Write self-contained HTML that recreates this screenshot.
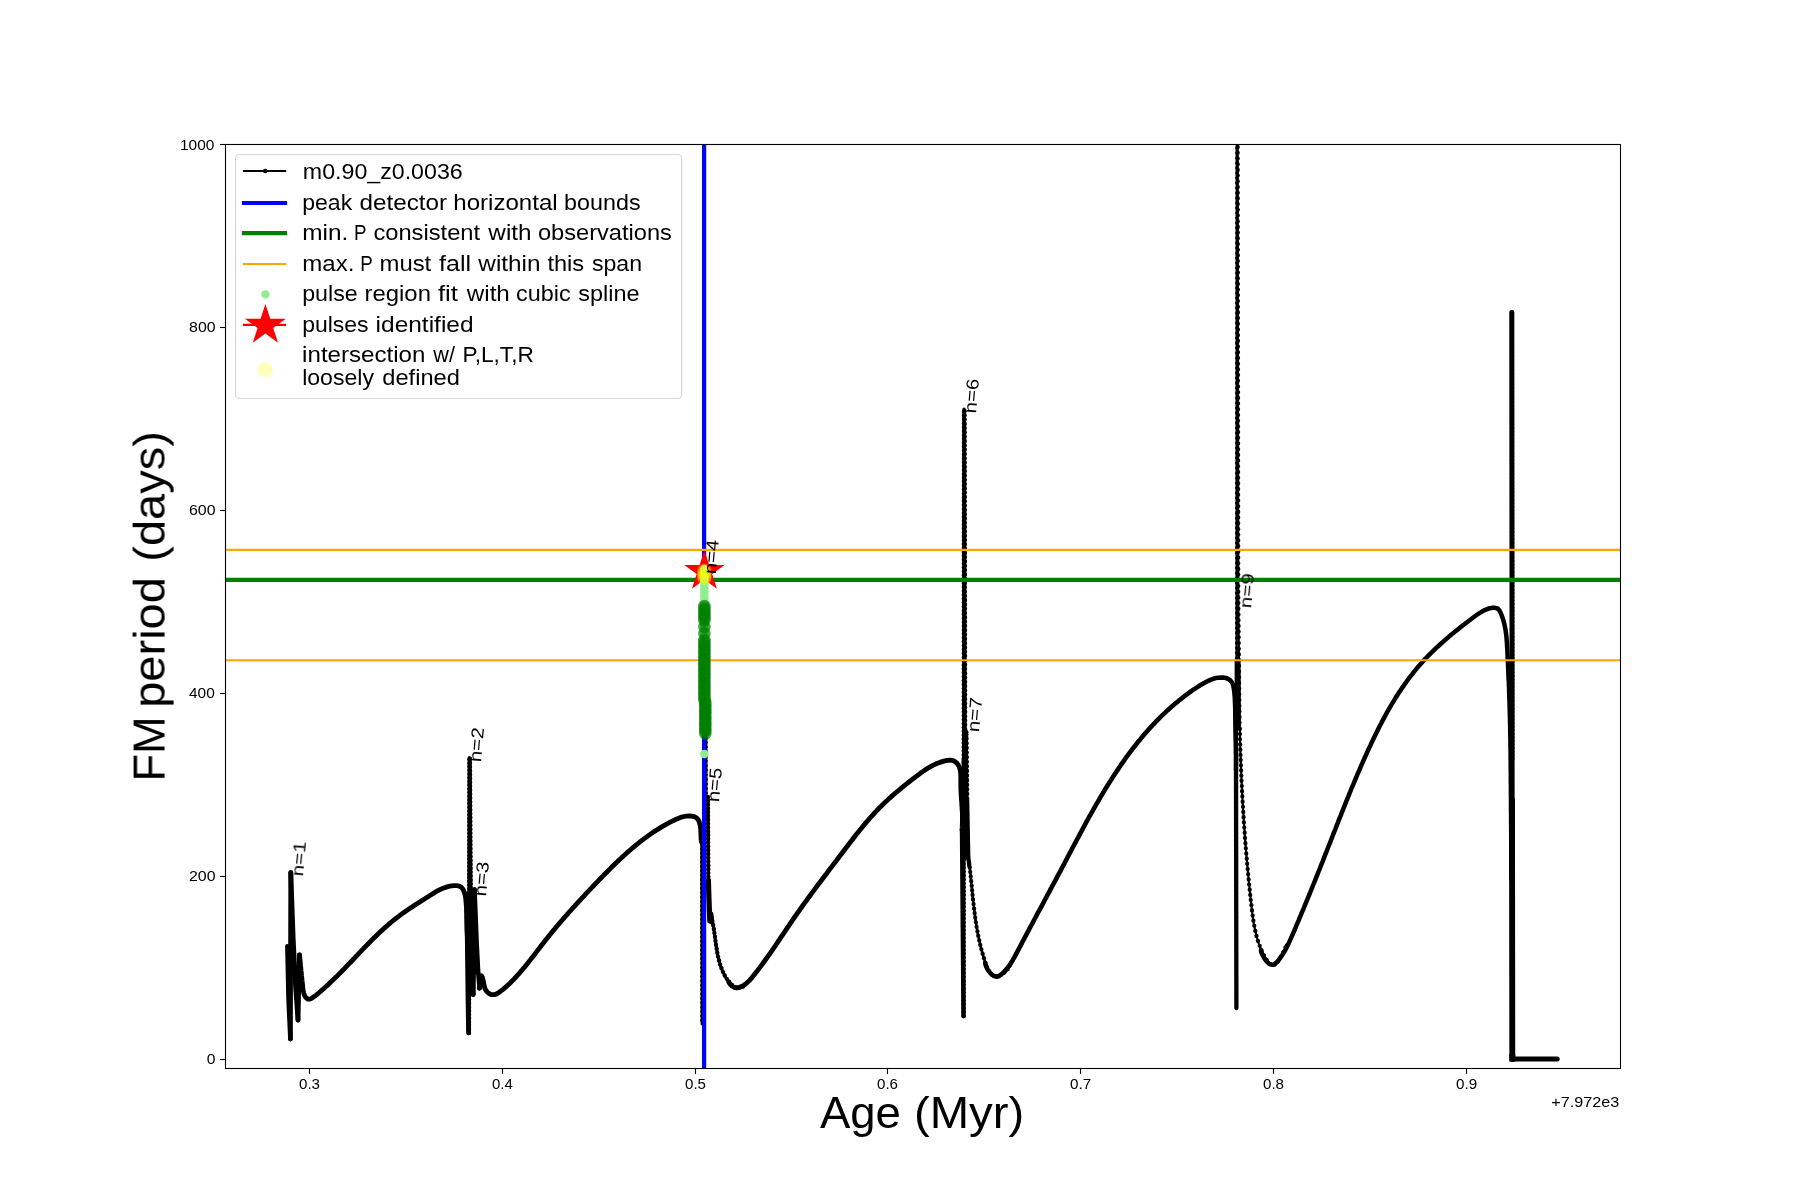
<!DOCTYPE html>
<html><head><meta charset="utf-8"><title>FM period vs Age</title>
<style>
html,body{margin:0;padding:0;background:#fff;}
body{width:1800px;height:1200px;overflow:hidden;}
svg{display:block;}
text{font-family:"Liberation Sans",sans-serif;fill:#000;}
g.t{opacity:0.999;}
</style></head>
<body>
<svg width="1800" height="1200" viewBox="0 0 1800 1200">
<rect x="0" y="0" width="1800" height="1200" fill="#ffffff"/>
<defs><clipPath id="ax"><rect x="225.5" y="144.5" width="1395" height="924"/></clipPath></defs>
<g clip-path="url(#ax)">
<g fill="none" stroke="#000" stroke-linejoin="round" stroke-linecap="round">
<path d="M469.0 1033.0 L469.4 757.5" stroke-width="3.2"/>
<path d="M469.0 1033.0 L469.4 757.5" stroke-width="4.5" stroke-dasharray="0 3.7"/>
<path d="M470.0 759.0 L470.8 890.0" stroke-width="3.0"/>
<path d="M470.0 759.0 L470.8 890.0" stroke-width="4.4" stroke-dasharray="0 3.9"/>
<path d="M701.7 840.0 L702.0 1024.0" stroke-width="2.8"/>
<path d="M701.7 840.0 L702.0 1024.0" stroke-width="3.6" stroke-dasharray="0 4.4"/>
<path d="M706.4 600.0 L706.9 797.0" stroke-width="1.4"/>
<path d="M706.4 600.0 L706.9 797.0" stroke-width="2.2" stroke-dasharray="0 4.6"/>
<path d="M707.9 797.0 L708.4 880.0" stroke-width="3.2"/>
<path d="M707.9 797.0 L708.4 880.0" stroke-width="4.4" stroke-dasharray="0 3.8"/>
<path d="M963.6 1016.0 L964.0 409.0" stroke-width="3.2"/>
<path d="M963.6 1016.0 L964.0 409.0" stroke-width="4.5" stroke-dasharray="0 3.9"/>
<path d="M964.7 411.0 L965.3 760.0" stroke-width="2.8"/>
<path d="M964.7 411.0 L965.3 760.0" stroke-width="4.3" stroke-dasharray="0 4.3"/>
<path d="M965.3 760.0 L966.6 731.0 L967.4 800.0" stroke-width="2.4"/>
<path d="M965.3 760.0 L966.6 731.0 L967.4 800.0" stroke-width="4.2" stroke-dasharray="0 4.6"/>
<path d="M1236.5 1008.0 L1236.8 130.0" stroke-width="2.4"/>
<path d="M1236.5 1008.0 L1236.8 130.0" stroke-width="3.4" stroke-dasharray="0 5.0"/>
<path d="M1237.8 130.0 L1238.4 600.0 L1239.7 729.0" stroke-width="2.0"/>
<path d="M1237.8 130.0 L1238.4 600.0 L1239.7 729.0" stroke-width="4.1" stroke-dasharray="0 5.7"/>
<path d="M1511.9 312.5 L1512.3 760.0" stroke-width="3.4"/>
<path d="M1511.9 312.5 L1512.3 760.0" stroke-width="4.6" stroke-dasharray="0 3.6"/>
<path d="M711.4 917.2 L712.0 919.5 L712.6 921.9 L713.0 924.4 L713.5 926.9 L713.9 929.4 L714.3 931.9 L714.6 934.5 L715.0 937.1 L715.3 939.7 L715.7 942.3 L716.0 944.9 L716.4 947.5 L716.9 950.2 L717.3 952.7 L717.8 955.3 L718.4 957.9 L719.0 960.4 L719.7 962.9 L720.4 965.4 L721.3 967.8 L722.2 970.2 L723.2 972.5 L724.4 974.8 L725.6 977.0 L727.0 979.2 L728.5 981.3 L730.2 983.3 L732.0 985.1 L733.9 986.6 L736.0 987.6 L738.2 987.9 L740.6 987.6 L743.0 986.3 L745.5 983.9" stroke-width="3.0"/>
<path d="M711.4 917.2 L712.0 919.5 L712.6 921.9 L713.0 924.4 L713.5 926.9 L713.9 929.4 L714.3 931.9 L714.6 934.5 L715.0 937.1 L715.3 939.7 L715.7 942.3 L716.0 944.9 L716.4 947.5 L716.9 950.2 L717.3 952.7 L717.8 955.3 L718.4 957.9 L719.0 960.4 L719.7 962.9 L720.4 965.4 L721.3 967.8 L722.2 970.2 L723.2 972.5 L724.4 974.8 L725.6 977.0 L727.0 979.2 L728.5 981.3 L730.2 983.3 L732.0 985.1 L733.9 986.6 L736.0 987.6 L738.2 987.9 L740.6 987.6 L743.0 986.3 L745.5 983.9" stroke-width="4.4" stroke-dasharray="0 4.0"/>
<path d="M969.2 862.9 L969.5 865.5 L969.8 868.1 L970.1 870.6 L970.4 873.2 L970.6 875.8 L970.9 878.3 L971.2 880.9 L971.4 883.4 L971.7 885.9 L971.9 888.5 L972.2 891.0 L972.4 893.5 L972.7 896.0 L972.9 898.6 L973.2 901.1 L973.5 903.6 L973.8 906.1 L974.1 908.6 L974.4 911.1 L974.7 913.6 L975.0 916.1 L975.4 918.6 L975.7 921.1 L976.1 923.6 L976.5 926.1 L976.9 928.6 L977.4 931.1 L977.8 933.6 L978.3 936.1 L978.9 938.6 L979.4 941.2 L980.0 943.7 L980.6 946.2 L981.2 948.7 L981.9 951.2 L982.6 953.7 L983.3 956.3 L984.1 958.8 L984.9 961.3 L985.7 963.9 L986.6 966.4 L987.6 968.8 L988.8 971.0 L990.3 973.0 L992.0 974.5 L993.9 975.6 L996.1 976.1 L998.5 975.9 L1000.8 975.0 L1003.1 973.7 L1005.3 971.9 L1007.2 969.8 L1008.8 967.6 L1010.0 965.2 L1010.7 962.9" stroke-width="2.6"/>
<path d="M969.2 862.9 L969.5 865.5 L969.8 868.1 L970.1 870.6 L970.4 873.2 L970.6 875.8 L970.9 878.3 L971.2 880.9 L971.4 883.4 L971.7 885.9 L971.9 888.5 L972.2 891.0 L972.4 893.5 L972.7 896.0 L972.9 898.6 L973.2 901.1 L973.5 903.6 L973.8 906.1 L974.1 908.6 L974.4 911.1 L974.7 913.6 L975.0 916.1 L975.4 918.6 L975.7 921.1 L976.1 923.6 L976.5 926.1 L976.9 928.6 L977.4 931.1 L977.8 933.6 L978.3 936.1 L978.9 938.6 L979.4 941.2 L980.0 943.7 L980.6 946.2 L981.2 948.7 L981.9 951.2 L982.6 953.7 L983.3 956.3 L984.1 958.8 L984.9 961.3 L985.7 963.9 L986.6 966.4 L987.6 968.8 L988.8 971.0 L990.3 973.0 L992.0 974.5 L993.9 975.6 L996.1 976.1 L998.5 975.9 L1000.8 975.0 L1003.1 973.7 L1005.3 971.9 L1007.2 969.8 L1008.8 967.6 L1010.0 965.2 L1010.7 962.9" stroke-width="4.3" stroke-dasharray="0 4.6"/>
<path d="M1239.8 728.9 L1239.9 731.5 L1239.9 734.0 L1240.0 736.6 L1240.0 739.2 L1240.1 741.7 L1240.2 744.3 L1240.3 746.8 L1240.3 749.3 L1240.4 751.9 L1240.5 754.4 L1240.6 757.0 L1240.7 759.5 L1240.8 762.1 L1240.9 764.6 L1241.0 767.1 L1241.1 769.7 L1241.2 772.2 L1241.3 774.7 L1241.4 777.3 L1241.5 779.8 L1241.6 782.3 L1241.8 784.8 L1241.9 787.4 L1242.0 789.9 L1242.1 792.4 L1242.3 795.0 L1242.4 797.5 L1242.5 800.0 L1242.7 802.5 L1242.8 805.1 L1243.0 807.6 L1243.1 810.1 L1243.3 812.6 L1243.5 815.1 L1243.6 817.7 L1243.8 820.2 L1243.9 822.7 L1244.1 825.2 L1244.3 827.8 L1244.5 830.3 L1244.7 832.8 L1244.8 835.3 L1245.0 837.8 L1245.2 840.4 L1245.4 842.9 L1245.6 845.4 L1245.8 847.9 L1246.0 850.5 L1246.2 853.0 L1246.5 855.5 L1246.7 858.0 L1246.9 860.6 L1247.1 863.1 L1247.3 865.6 L1247.6 868.2 L1247.8 870.7 L1248.1 873.2 L1248.3 875.8 L1248.5 878.3 L1248.8 880.8 L1249.0 883.4 L1249.3 885.9 L1249.6 888.5 L1249.8 891.0 L1250.1 893.5 L1250.4 896.1 L1250.6 898.6 L1250.9 901.2 L1251.2 903.7 L1251.5 906.3 L1251.8 908.8 L1252.1 911.4 L1252.4 913.9 L1252.8 916.5 L1253.1 919.0 L1253.5 921.5 L1253.9 924.0 L1254.4 926.5 L1254.9 929.0 L1255.4 931.5 L1256.0 934.0 L1256.6 936.4 L1257.3 938.8 L1258.0 941.2 L1258.8 943.6 L1259.7 945.9 L1260.6 948.3 L1261.6 950.6 L1262.7 952.8 L1263.8 955.1 L1265.1 957.3 L1266.4 959.4 L1267.8 961.5 L1269.3 963.4 L1271.0 964.8 L1272.8 965.3 L1274.9 964.6 L1277.3 962.5 L1280.0 958.5 L1282.8 953.2 L1285.2 948.1 L1286.9 944.5 L1287.3 944.1 L1286.0 948.3" stroke-width="2.2"/>
<path d="M1239.8 728.9 L1239.9 731.5 L1239.9 734.0 L1240.0 736.6 L1240.0 739.2 L1240.1 741.7 L1240.2 744.3 L1240.3 746.8 L1240.3 749.3 L1240.4 751.9 L1240.5 754.4 L1240.6 757.0 L1240.7 759.5 L1240.8 762.1 L1240.9 764.6 L1241.0 767.1 L1241.1 769.7 L1241.2 772.2 L1241.3 774.7 L1241.4 777.3 L1241.5 779.8 L1241.6 782.3 L1241.8 784.8 L1241.9 787.4 L1242.0 789.9 L1242.1 792.4 L1242.3 795.0 L1242.4 797.5 L1242.5 800.0 L1242.7 802.5 L1242.8 805.1 L1243.0 807.6 L1243.1 810.1 L1243.3 812.6 L1243.5 815.1 L1243.6 817.7 L1243.8 820.2 L1243.9 822.7 L1244.1 825.2 L1244.3 827.8 L1244.5 830.3 L1244.7 832.8 L1244.8 835.3 L1245.0 837.8 L1245.2 840.4 L1245.4 842.9 L1245.6 845.4 L1245.8 847.9 L1246.0 850.5 L1246.2 853.0 L1246.5 855.5 L1246.7 858.0 L1246.9 860.6 L1247.1 863.1 L1247.3 865.6 L1247.6 868.2 L1247.8 870.7 L1248.1 873.2 L1248.3 875.8 L1248.5 878.3 L1248.8 880.8 L1249.0 883.4 L1249.3 885.9 L1249.6 888.5 L1249.8 891.0 L1250.1 893.5 L1250.4 896.1 L1250.6 898.6 L1250.9 901.2 L1251.2 903.7 L1251.5 906.3 L1251.8 908.8 L1252.1 911.4 L1252.4 913.9 L1252.8 916.5 L1253.1 919.0 L1253.5 921.5 L1253.9 924.0 L1254.4 926.5 L1254.9 929.0 L1255.4 931.5 L1256.0 934.0 L1256.6 936.4 L1257.3 938.8 L1258.0 941.2 L1258.8 943.6 L1259.7 945.9 L1260.6 948.3 L1261.6 950.6 L1262.7 952.8 L1263.8 955.1 L1265.1 957.3 L1266.4 959.4 L1267.8 961.5 L1269.3 963.4 L1271.0 964.8 L1272.8 965.3 L1274.9 964.6 L1277.3 962.5 L1280.0 958.5 L1282.8 953.2 L1285.2 948.1 L1286.9 944.5 L1287.3 944.1 L1286.0 948.3" stroke-width="4.3" stroke-dasharray="0 5.2"/>
<path d="M287.4 946.3 L288.6 1000.0 L290.4 1039.0" stroke-width="4.6"/>
<path d="M290.4 1039.0 L290.8 872.7" stroke-width="4.8"/>
<path d="M290.8 872.7 L293.2 939.0 L295.6 986.7 L298.0 1020.0" stroke-width="4.8"/>
<path d="M298.0 1020.0 L299.5 955.0" stroke-width="4.8"/>
<path d="M467.2 935.0 L468.0 1000.0 L468.5 1033.0" stroke-width="4.7"/>
<path d="M470.4 890.0 L471.6 950.0 L473.2 994.5" stroke-width="4.8"/>
<path d="M473.2 994.5 L474.5 889.5" stroke-width="4.6"/>
<path d="M474.5 889.5 L476.5 940.0 L478.0 970.0 L479.6 988.0" stroke-width="4.6"/>
<path d="M708.4 880.0 L709.0 900.0 L709.8 921.0" stroke-width="5.2"/>
<path d="M710.9 914.0 L711.6 922.0" stroke-width="5.0"/>
<path d="M962.0 830.0 L963.5 1016.0" stroke-width="4.4"/>
<path d="M964.5 760.0 L965.2 857.0" stroke-width="5.8"/>
<path d="M967.2 800.0 L968.3 857.0 L969.3 866.0" stroke-width="4.2"/>
<path d="M1236.0 770.0 L1236.4 1008.0" stroke-width="4.3"/>
<path d="M1237.6 660.0 L1237.8 727.0" stroke-width="6.0"/>
<path d="M1512.0 800.0 L1512.3 1059.0" stroke-width="5.9"/>
<path d="M1511.8 312.6 L1512.2 880.0" stroke-width="5.0"/>
<path d="M299.5 955.0 L299.8 957.6 L300.0 960.1 L300.3 962.6 L300.5 965.2 L300.8 967.7 L301.0 970.2 L301.3 972.7 L301.5 975.2 L301.8 977.7 L302.0 980.2 L302.3 982.8 L302.6 985.3 L302.8 987.9 L303.2 990.4 L303.7 993.0 L304.6 995.4 L306.0 997.7 L307.8 999.2 L310.0 999.1 L312.4 997.8 L314.6 996.3 L316.7 994.7 L318.7 993.0 L320.6 991.3 L322.5 989.7 L324.4 988.0 L326.3 986.3 L328.2 984.6 L330.0 982.8 L331.8 981.1 L333.6 979.4 L335.4 977.6 L337.2 975.9 L339.0 974.1 L340.8 972.3 L342.5 970.5 L344.3 968.7 L346.0 966.9 L347.7 965.1 L349.5 963.3 L351.2 961.5 L353.0 959.7 L354.7 957.8 L356.5 956.0 L358.2 954.1 L360.0 952.3 L361.7 950.4 L363.5 948.6 L365.3 946.7 L367.1 944.9 L368.9 943.0 L370.8 941.2 L372.6 939.3 L374.4 937.5 L376.3 935.7 L378.1 933.9 L380.0 932.1 L381.9 930.4 L383.8 928.6 L385.7 926.9 L387.6 925.3 L389.5 923.6 L391.4 922.0 L393.4 920.4 L395.3 918.9 L397.3 917.3 L399.3 915.8 L401.2 914.4 L403.2 912.9 L405.3 911.5 L407.3 910.1 L409.3 908.7 L411.4 907.4 L413.5 906.0 L415.6 904.6 L417.7 903.3 L419.8 901.9 L422.0 900.5 L424.1 899.2 L426.3 897.8 L428.5 896.4 L430.7 895.0 L433.0 893.6 L435.2 892.2 L437.5 890.9 L439.8 889.7 L442.2 888.6 L444.6 887.7 L447.0 886.9 L449.4 886.2 L451.8 885.8 L454.3 885.6 L456.9 885.7 L459.3 886.2 L461.5 887.4 L463.1 889.5 L464.2 892.0 L465.0 894.5 L465.5 897.0 L465.8 899.5 L466.0 901.9 L466.2 904.4 L466.4 907.0 L466.5 909.5 L466.5 912.1 L466.6 914.7 L466.6 917.2 L466.7 919.8 L466.7 922.4 L466.8 924.9 L466.8 927.5 L466.9 930.0 L467.0 932.5 L467.2 935.0" stroke-width="4.8"/>
<path d="M479.6 988.0 L479.3 988.2 L479.5 985.3 L480.0 981.2 L480.7 977.5 L481.6 975.8 L482.4 977.3 L483.1 980.2 L483.7 983.1 L484.2 985.7 L484.8 988.1 L485.8 990.2 L487.3 992.1 L489.3 993.7 L491.7 994.7 L494.2 994.7 L496.6 993.9 L498.9 992.5 L501.0 990.9 L503.1 989.3 L505.0 987.7 L506.8 986.1 L508.6 984.4 L510.4 982.7 L512.2 980.9 L513.9 979.2 L515.6 977.3 L517.3 975.5 L519.0 973.6 L520.6 971.7 L522.3 969.8 L523.9 967.9 L525.5 965.9 L527.1 963.9 L528.7 961.9 L530.3 959.9 L531.8 957.9 L533.4 955.9 L535.0 953.9 L536.5 951.8 L538.1 949.8 L539.7 947.8 L541.2 945.8 L542.8 943.7 L544.3 941.7 L545.9 939.7 L547.5 937.7 L549.1 935.7 L550.7 933.8 L552.3 931.8 L553.9 929.9 L555.5 927.9 L557.1 926.0 L558.7 924.1 L560.4 922.2 L562.0 920.3 L563.7 918.4 L565.3 916.5 L567.0 914.6 L568.6 912.7 L570.3 910.9 L572.0 909.0 L573.7 907.2 L575.3 905.3 L577.0 903.5 L578.7 901.6 L580.4 899.8 L582.2 897.9 L583.9 896.1 L585.6 894.2 L587.3 892.4 L589.0 890.6 L590.8 888.7 L592.5 886.9 L594.3 885.0 L596.0 883.2 L597.8 881.4 L599.5 879.5 L601.3 877.7 L603.1 875.9 L604.9 874.0 L606.7 872.2 L608.5 870.4 L610.3 868.6 L612.1 866.8 L613.9 865.0 L615.7 863.2 L617.6 861.5 L619.4 859.7 L621.3 858.0 L623.2 856.2 L625.1 854.5 L627.0 852.8 L628.9 851.1 L630.8 849.5 L632.7 847.8 L634.7 846.2 L636.6 844.6 L638.6 843.0 L640.6 841.4 L642.6 839.9 L644.6 838.4 L646.7 836.9 L648.7 835.4 L650.8 833.9 L652.8 832.5 L654.9 831.1 L657.1 829.8 L659.2 828.4 L661.3 827.1 L663.5 825.8 L665.7 824.6 L667.9 823.4 L670.1 822.2 L672.3 821.1 L674.6 820.0 L676.9 818.9 L679.2 818.0 L681.6 817.1 L684.0 816.5 L686.6 816.1 L689.2 815.9 L691.8 816.1 L694.3 816.7 L696.5 817.8 L698.1 819.6 L699.2 821.8 L699.9 824.3 L700.4 826.9 L700.7 829.4 L700.8 831.9 L700.9 834.4 L701.0 836.9 L701.1 839.4 L701.4 842.0" stroke-width="4.8"/>
<path d="M728.7 982.0 L730.1 984.2 L732.0 986.0 L734.2 987.3 L736.6 987.8 L739.1 987.5 L741.4 986.6 L743.6 985.5 L745.6 984.0 L747.5 982.4 L749.3 980.6 L751.0 978.7 L752.6 976.7 L754.2 974.7 L755.8 972.7 L757.4 970.7 L759.0 968.6 L760.5 966.6 L762.0 964.6 L763.5 962.5 L765.0 960.5 L766.5 958.4 L767.9 956.4 L769.4 954.3 L770.8 952.3 L772.3 950.2 L773.7 948.1 L775.1 946.1 L776.5 944.0 L777.9 941.9 L779.3 939.8 L780.7 937.7 L782.1 935.7 L783.5 933.6 L784.9 931.5 L786.3 929.4 L787.7 927.3 L789.1 925.3 L790.5 923.2 L791.9 921.1 L793.3 919.0 L794.7 917.0 L796.2 914.9 L797.6 912.9 L799.1 910.8 L800.5 908.7 L802.0 906.7 L803.4 904.6 L804.9 902.6 L806.4 900.6 L807.9 898.5 L809.4 896.5 L810.9 894.4 L812.4 892.4 L813.9 890.4 L815.4 888.3 L816.9 886.3 L818.4 884.3 L820.0 882.3 L821.5 880.2 L823.0 878.2 L824.5 876.2 L826.1 874.2 L827.6 872.2 L829.1 870.1 L830.7 868.1 L832.2 866.1 L833.7 864.1 L835.3 862.1 L836.8 860.1 L838.3 858.0 L839.8 856.0 L841.4 854.0 L842.9 852.0 L844.4 850.0 L845.9 848.0 L847.5 846.0 L849.0 844.0 L850.5 842.0 L852.1 840.0 L853.6 838.0 L855.1 836.0 L856.7 834.0 L858.3 832.1 L859.8 830.1 L861.4 828.2 L863.0 826.2 L864.6 824.3 L866.2 822.4 L867.9 820.5 L869.5 818.6 L871.2 816.7 L872.9 814.8 L874.6 813.0 L876.3 811.2 L878.0 809.3 L879.8 807.5 L881.6 805.8 L883.4 804.0 L885.2 802.2 L887.1 800.5 L888.9 798.8 L890.8 797.1 L892.7 795.4 L894.6 793.7 L896.6 792.1 L898.5 790.5 L900.5 788.8 L902.4 787.2 L904.4 785.6 L906.4 784.0 L908.3 782.5 L910.3 780.9 L912.3 779.4 L914.3 777.8 L916.3 776.3 L918.3 774.8 L920.3 773.3 L922.3 771.9 L924.3 770.5 L926.4 769.1 L928.5 767.8 L930.6 766.6 L932.8 765.4 L935.1 764.3 L937.4 763.3 L939.8 762.4 L942.3 761.6 L944.8 760.9 L947.4 760.4 L950.0 760.2 L952.5 760.4 L954.7 761.3 L956.6 762.8 L958.1 764.7 L959.3 767.0 L960.0 769.4 L960.5 771.8 L960.7 774.4 L960.8 776.9 L960.8 779.5 L960.8 782.1 L960.8 784.7 L960.8 787.3 L960.9 789.8 L961.0 792.3 L961.2 794.8 L961.3 797.2 L961.5 799.7 L961.7 802.2 L961.8 804.6 L962.0 807.1 L962.1 809.6 L962.3 812.1 L962.4 814.5 L962.4 817.1 L962.4 819.6 L962.4 822.2 L962.3 824.7 L962.2 827.4 L962.0 830.0" stroke-width="4.8"/>
<path d="M985.3 963.0 L985.6 964.9 L986.5 967.3 L987.8 969.8 L989.6 972.2 L991.5 974.3 L993.7 975.8 L995.9 976.6 L998.1 976.4 L1000.2 975.3 L1002.1 973.7 L1004.0 971.9 L1005.7 970.0 L1007.4 968.1 L1008.9 966.1 L1010.4 964.0 L1011.7 961.8 L1013.0 959.7 L1014.3 957.4 L1015.5 955.2 L1016.7 952.9 L1017.9 950.7 L1019.1 948.4 L1020.3 946.1 L1021.5 943.9 L1022.6 941.6 L1023.8 939.4 L1025.0 937.2 L1026.2 934.9 L1027.4 932.7 L1028.6 930.4 L1029.7 928.2 L1030.9 926.0 L1032.1 923.8 L1033.3 921.6 L1034.5 919.3 L1035.7 917.1 L1036.8 914.9 L1038.0 912.7 L1039.2 910.5 L1040.4 908.3 L1041.6 906.1 L1042.8 903.9 L1043.9 901.7 L1045.1 899.5 L1046.3 897.3 L1047.5 895.0 L1048.7 892.8 L1049.9 890.6 L1051.0 888.4 L1052.2 886.2 L1053.4 884.0 L1054.6 881.8 L1055.8 879.6 L1056.9 877.4 L1058.1 875.2 L1059.3 873.0 L1060.5 870.8 L1061.7 868.5 L1062.8 866.3 L1064.0 864.1 L1065.2 861.9 L1066.4 859.6 L1067.5 857.4 L1068.7 855.2 L1069.9 852.9 L1071.1 850.7 L1072.2 848.5 L1073.4 846.2 L1074.6 844.0 L1075.8 841.8 L1077.0 839.5 L1078.2 837.3 L1079.4 835.1 L1080.6 832.8 L1081.8 830.6 L1083.0 828.4 L1084.2 826.1 L1085.4 823.9 L1086.6 821.7 L1087.8 819.5 L1089.0 817.2 L1090.3 815.0 L1091.5 812.8 L1092.8 810.6 L1094.0 808.4 L1095.3 806.2 L1096.5 804.0 L1097.8 801.8 L1099.1 799.6 L1100.3 797.4 L1101.6 795.3 L1102.9 793.1 L1104.2 790.9 L1105.5 788.8 L1106.9 786.6 L1108.2 784.5 L1109.5 782.3 L1110.9 780.2 L1112.2 778.1 L1113.6 775.9 L1115.0 773.8 L1116.4 771.7 L1117.8 769.6 L1119.2 767.5 L1120.6 765.5 L1122.0 763.4 L1123.5 761.3 L1124.9 759.3 L1126.4 757.2 L1127.9 755.2 L1129.4 753.2 L1130.9 751.2 L1132.4 749.2 L1133.9 747.2 L1135.5 745.2 L1137.0 743.3 L1138.6 741.3 L1140.2 739.4 L1141.8 737.4 L1143.4 735.5 L1145.0 733.6 L1146.7 731.7 L1148.3 729.9 L1150.0 728.0 L1151.7 726.2 L1153.4 724.3 L1155.2 722.5 L1156.9 720.7 L1158.7 718.9 L1160.4 717.1 L1162.2 715.4 L1164.1 713.6 L1165.9 711.9 L1167.7 710.2 L1169.6 708.5 L1171.5 706.8 L1173.4 705.2 L1175.3 703.6 L1177.3 701.9 L1179.2 700.3 L1181.2 698.8 L1183.2 697.2 L1185.2 695.7 L1187.2 694.2 L1189.3 692.7 L1191.3 691.2 L1193.4 689.7 L1195.5 688.3 L1197.7 686.9 L1199.8 685.5 L1202.0 684.2 L1204.2 682.9 L1206.4 681.7 L1208.7 680.6 L1211.0 679.6 L1213.3 678.8 L1215.7 678.1 L1218.2 677.7 L1220.7 677.5 L1223.2 677.6 L1225.8 678.0 L1228.1 678.9 L1230.1 680.2 L1231.7 682.0 L1232.8 684.2 L1233.5 686.7 L1234.0 689.2 L1234.3 691.8 L1234.5 694.4 L1234.8 697.0 L1234.9 699.5 L1235.0 702.1 L1235.1 704.6 L1235.2 707.1 L1235.3 709.6 L1235.3 712.0 L1235.3 714.5 L1235.3 717.0 L1235.4 719.5 L1235.4 722.0 L1235.4 724.5 L1235.5 727.0 L1235.5 729.5 L1235.5 732.1 L1235.6 734.6 L1235.6 737.2 L1235.7 739.7 L1235.8 742.2 L1235.8 744.8 L1235.9 747.3 L1235.9 749.9 L1235.9 752.4 L1236.0 755.0 L1236.0 757.5 L1236.0 760.0 L1236.0 762.5 L1236.0 765.0 L1236.0 767.5 L1236.0 770.0" stroke-width="4.6"/>
<path d="M1261.0 950.0 L1261.1 951.5 L1261.8 953.6 L1263.1 956.2 L1264.7 958.9 L1266.6 961.4 L1268.7 963.4 L1270.9 964.6 L1273.0 964.8 L1274.9 963.9 L1276.8 962.2 L1278.5 960.2 L1280.2 958.0 L1281.7 955.9 L1283.1 953.7 L1284.4 951.5 L1285.7 949.3 L1286.8 947.1 L1287.9 944.9 L1289.0 942.6 L1290.0 940.4 L1291.0 938.1 L1292.0 935.8 L1293.0 933.6 L1294.0 931.3 L1295.0 929.0 L1295.9 926.7 L1296.9 924.4 L1297.9 922.1 L1298.9 919.8 L1299.8 917.5 L1300.8 915.2 L1301.7 912.9 L1302.7 910.6 L1303.7 908.3 L1304.6 906.0 L1305.6 903.7 L1306.5 901.4 L1307.5 899.0 L1308.5 896.7 L1309.4 894.4 L1310.4 892.0 L1311.3 889.7 L1312.2 887.4 L1313.2 885.0 L1314.1 882.7 L1315.1 880.3 L1316.0 878.0 L1317.0 875.7 L1317.9 873.3 L1318.8 871.0 L1319.8 868.6 L1320.7 866.3 L1321.6 863.9 L1322.6 861.6 L1323.5 859.2 L1324.4 856.9 L1325.3 854.5 L1326.3 852.2 L1327.2 849.8 L1328.1 847.5 L1329.0 845.2 L1330.0 842.8 L1330.9 840.5 L1331.8 838.1 L1332.7 835.8 L1333.6 833.4 L1334.5 831.1 L1335.5 828.8 L1336.4 826.4 L1337.3 824.1 L1338.2 821.8 L1339.1 819.4 L1340.0 817.1 L1341.0 814.8 L1341.9 812.4 L1342.8 810.1 L1343.7 807.8 L1344.7 805.5 L1345.6 803.1 L1346.5 800.8 L1347.5 798.5 L1348.4 796.2 L1349.3 793.9 L1350.3 791.5 L1351.2 789.2 L1352.2 786.9 L1353.2 784.6 L1354.1 782.3 L1355.1 780.0 L1356.1 777.7 L1357.0 775.4 L1358.0 773.1 L1359.0 770.8 L1360.0 768.5 L1361.0 766.2 L1362.0 763.9 L1363.0 761.6 L1364.0 759.3 L1365.0 757.0 L1366.1 754.7 L1367.1 752.4 L1368.1 750.2 L1369.2 747.9 L1370.3 745.6 L1371.3 743.3 L1372.4 741.0 L1373.5 738.8 L1374.6 736.5 L1375.7 734.2 L1376.8 732.0 L1377.9 729.7 L1379.0 727.5 L1380.2 725.2 L1381.4 723.0 L1382.5 720.8 L1383.7 718.6 L1384.9 716.3 L1386.1 714.1 L1387.3 711.9 L1388.6 709.7 L1389.8 707.6 L1391.1 705.4 L1392.4 703.2 L1393.7 701.1 L1395.0 698.9 L1396.3 696.8 L1397.6 694.7 L1399.0 692.6 L1400.4 690.5 L1401.8 688.4 L1403.2 686.4 L1404.6 684.3 L1406.1 682.3 L1407.6 680.2 L1409.0 678.2 L1410.6 676.2 L1412.1 674.3 L1413.6 672.3 L1415.2 670.4 L1416.8 668.4 L1418.4 666.5 L1420.1 664.6 L1421.8 662.8 L1423.4 660.9 L1425.1 659.1 L1426.9 657.2 L1428.6 655.4 L1430.4 653.6 L1432.2 651.9 L1434.0 650.1 L1435.8 648.4 L1437.6 646.7 L1439.5 645.0 L1441.4 643.3 L1443.3 641.6 L1445.1 639.9 L1447.1 638.3 L1449.0 636.6 L1450.9 635.0 L1452.8 633.4 L1454.8 631.8 L1456.8 630.2 L1458.7 628.7 L1460.7 627.1 L1462.7 625.5 L1464.7 624.0 L1466.6 622.5 L1468.6 621.0 L1470.6 619.5 L1472.6 618.0 L1474.6 616.5 L1476.6 615.0 L1478.7 613.6 L1480.8 612.3 L1482.9 611.0 L1485.2 609.9 L1487.5 609.0 L1490.0 608.2 L1492.6 607.7 L1495.2 607.8 L1497.5 608.5 L1499.2 610.1 L1500.4 612.3 L1501.4 614.6 L1502.3 617.0 L1503.1 619.4 L1503.8 621.8 L1504.4 624.2 L1504.9 626.6 L1505.4 629.1 L1505.8 631.6 L1506.1 634.0 L1506.4 636.5 L1506.6 639.0 L1506.8 641.6 L1507.0 644.1 L1507.1 646.6 L1507.3 649.1 L1507.4 651.6 L1507.5 654.2 L1507.6 656.7 L1507.7 659.2 L1507.9 661.7 L1508.0 664.2 L1508.1 666.7 L1508.2 669.2 L1508.3 671.8 L1508.4 674.3 L1508.5 676.8 L1508.6 679.3 L1508.8 681.8 L1508.9 684.3 L1509.0 686.8 L1509.1 689.3 L1509.1 691.8 L1509.2 694.3 L1509.3 696.8 L1509.4 699.3 L1509.5 701.8 L1509.6 704.3 L1509.6 706.8 L1509.7 709.3 L1509.8 711.8 L1509.8 714.3 L1509.9 716.8 L1510.0 719.4 L1510.0 721.9 L1510.1 724.4 L1510.1 726.9 L1510.2 729.4 L1510.2 731.9 L1510.3 734.4 L1510.3 736.9 L1510.4 739.4 L1510.4 741.9 L1510.4 744.4 L1510.5 747.0 L1510.5 749.5 L1510.6 752.0 L1510.6 754.5 L1510.6 757.0 L1510.6 759.5 L1510.7 762.0 L1510.7 764.5 L1510.7 767.0 L1510.7 769.5 L1510.8 772.1 L1510.8 774.6 L1510.8 777.1 L1510.8 779.6 L1510.8 782.1 L1510.9 784.6 L1510.9 787.1 L1510.9 789.6 L1510.9 792.2 L1510.9 794.7 L1511.0 797.2 L1511.0 799.7 L1511.0 802.2 L1511.0 804.7 L1511.0 807.2 L1511.0 809.7 L1511.0 812.2 L1511.1 814.8 L1511.1 817.3 L1511.1 819.8 L1511.1 822.3 L1511.1 824.8 L1511.2 827.3 L1511.2 829.8 L1511.2 832.3 L1511.2 834.8 L1511.2 837.4 L1511.3 839.9 L1511.3 842.4 L1511.3 844.9 L1511.3 847.4 L1511.4 849.9 L1511.4 852.4 L1511.4 854.9 L1511.5 857.4 L1511.5 859.9 L1511.5 862.4 L1511.6 865.0 L1511.6 867.5 L1511.6 870.0 L1511.7 872.5 L1511.7 875.0 L1511.8 877.5 L1511.8 880.0" stroke-width="4.5"/>
<path d="M1512.3 1059.0 L1557.2 1059.0" stroke-width="5.0" stroke-linecap="round"/>
</g>
<rect x="1509.35" y="1054" width="5.9" height="7.5" fill="#000"/>
<polygon points="465.6,893.0 470.0,889.0 476.6,889.5 477.6,940.0 478.4,965.0 475.5,975.0 474.6,993.0 471.0,996.0 466.2,996.0 465.8,940.0" fill="#000"/>
<line x1="704.1" x2="704.1" y1="140" y2="1072" stroke="#0000ff" stroke-width="4.2"/>
<line x1="225" x2="1621" y1="579.9" y2="579.9" stroke="#008000" stroke-width="4.2"/>
<line x1="225" x2="1621" y1="549.9" y2="549.9" stroke="#ffa500" stroke-width="2.1"/>
<line x1="225" x2="1621" y1="660.2" y2="660.2" stroke="#ffa500" stroke-width="2.1"/>
<circle cx="704.4" cy="754" r="4.3" fill="#90ee90"/>
<polygon points="704.40,550.30 699.62,565.02 684.14,565.02 696.66,574.11 691.88,588.83 704.40,579.74 716.92,588.83 712.14,574.11 724.66,565.02 709.18,565.02" fill="#ff0000"/>
<g fill="#90ee90">
<circle cx="704.4" cy="569.0" r="4.3"/>
<circle cx="704.4" cy="572.0" r="4.3"/>
<circle cx="704.4" cy="575.0" r="4.3"/>
<circle cx="704.4" cy="578.0" r="4.3"/>
<circle cx="704.4" cy="581.0" r="4.3"/>
<circle cx="704.4" cy="584.5" r="4.3"/>
<circle cx="704.4" cy="588.2" r="4.3"/>
<circle cx="704.4" cy="591.9" r="4.3"/>
<circle cx="704.4" cy="595.6" r="4.3"/>
<circle cx="704.4" cy="599.3" r="4.3"/>
<circle cx="704.4" cy="603.0" r="4.3"/>
<rect x="700.1" y="603" width="8.6" height="130" />
</g>
<g fill="#008000" fill-opacity="0.7">
<circle cx="704.4" cy="606.0" r="6.3"/>
<circle cx="704.4" cy="608.4" r="6.3"/>
<circle cx="704.4" cy="610.8" r="6.3"/>
<circle cx="704.4" cy="613.2" r="6.3"/>
<circle cx="704.4" cy="615.6" r="6.3"/>
<circle cx="704.4" cy="618.0" r="6.3"/>
<circle cx="704.4" cy="620.4" r="6.3"/>
<circle cx="704.4" cy="626.9" r="6.3"/>
<circle cx="704.4" cy="633.4" r="6.3"/>
<circle cx="704.4" cy="639.9" r="6.3"/>
<circle cx="704.4" cy="642.3" r="6.3"/>
<circle cx="704.4" cy="644.7" r="6.3"/>
<circle cx="704.4" cy="647.1" r="6.3"/>
<circle cx="704.4" cy="649.5" r="6.3"/>
<circle cx="704.4" cy="651.9" r="6.3"/>
<circle cx="704.4" cy="654.3" r="6.3"/>
<circle cx="704.4" cy="656.7" r="6.3"/>
<circle cx="704.4" cy="659.1" r="6.3"/>
<circle cx="704.4" cy="661.5" r="6.3"/>
<circle cx="704.4" cy="663.9" r="6.3"/>
<circle cx="704.4" cy="666.3" r="6.3"/>
<circle cx="704.4" cy="668.7" r="6.3"/>
<circle cx="704.4" cy="671.1" r="6.3"/>
<circle cx="704.4" cy="673.5" r="6.3"/>
<circle cx="704.4" cy="675.9" r="6.3"/>
<circle cx="704.4" cy="678.3" r="6.3"/>
<circle cx="704.4" cy="680.7" r="6.3"/>
<circle cx="704.4" cy="683.1" r="6.3"/>
<circle cx="704.4" cy="685.5" r="6.3"/>
<circle cx="704.4" cy="687.9" r="6.3"/>
<circle cx="704.4" cy="690.3" r="6.3"/>
<circle cx="704.4" cy="692.7" r="6.3"/>
<circle cx="704.4" cy="695.1" r="6.3"/>
<circle cx="704.4" cy="697.5" r="6.3"/>
<circle cx="704.4" cy="699.9" r="6.3"/>
<circle cx="705.3" cy="702.3" r="6.3"/>
<circle cx="705.3" cy="704.7" r="6.3"/>
<circle cx="705.3" cy="707.1" r="6.3"/>
<circle cx="705.3" cy="709.5" r="6.3"/>
<circle cx="705.3" cy="711.9" r="6.3"/>
<circle cx="705.3" cy="714.3" r="6.3"/>
<circle cx="705.3" cy="716.7" r="6.3"/>
<circle cx="705.3" cy="719.1" r="6.3"/>
<circle cx="705.3" cy="721.5" r="6.3"/>
<circle cx="705.3" cy="723.9" r="6.3"/>
<circle cx="705.3" cy="726.3" r="6.3"/>
<circle cx="705.3" cy="728.7" r="6.3"/>
<circle cx="705.3" cy="731.1" r="6.3"/>
<circle cx="705.3" cy="733.5" r="6.3"/>
</g>
<g fill="#ffff00" fill-opacity="0.3">
<circle cx="704.4" cy="570.5" r="7.1"/>
<circle cx="704.4" cy="572.5" r="7.1"/>
<circle cx="704.4" cy="574.5" r="7.1"/>
<circle cx="704.4" cy="576.5" r="7.1"/>
<circle cx="704.4" cy="578.5" r="7.1"/>
</g>
</g>
<g class="t" font-size="17.4">
<text transform="translate(303.0 876.4) rotate(-85)" x="-0.15" textLength="34.74" lengthAdjust="spacingAndGlyphs">n=1</text>
<text transform="translate(480.9 762.4) rotate(-85)" x="-0.15" textLength="34.78" lengthAdjust="spacingAndGlyphs">n=2</text>
<text transform="translate(485.9 896.5) rotate(-85)" x="-0.15" textLength="34.63" lengthAdjust="spacingAndGlyphs">n=3</text>
<text transform="translate(715.7 574.3) rotate(-85)" x="-0.14" textLength="34.33" lengthAdjust="spacingAndGlyphs">n=4</text>
<text transform="translate(719.1 802.4) rotate(-85)" x="-0.15" textLength="34.59" lengthAdjust="spacingAndGlyphs">n=5</text>
<text transform="translate(975.9 413.5) rotate(-85)" x="-0.15" textLength="34.63" lengthAdjust="spacingAndGlyphs">n=6</text>
<text transform="translate(979.1 732.4) rotate(-85)" x="-0.15" textLength="34.78" lengthAdjust="spacingAndGlyphs">n=7</text>
<text transform="translate(1251.1 608.3) rotate(-85)" x="-0.15" textLength="34.72" lengthAdjust="spacingAndGlyphs">n=9</text>
</g>
<rect x="225.5" y="144.5" width="1395" height="924" fill="none" stroke="#000" stroke-width="1.1"/>
<g stroke="#000" stroke-width="1.1">
<line x1="309.5" x2="309.5" y1="1068.5" y2="1073.9"/>
<line x1="502.5" x2="502.5" y1="1068.5" y2="1073.9"/>
<line x1="695.5" x2="695.5" y1="1068.5" y2="1073.9"/>
<line x1="887.5" x2="887.5" y1="1068.5" y2="1073.9"/>
<line x1="1080.5" x2="1080.5" y1="1068.5" y2="1073.9"/>
<line x1="1273.5" x2="1273.5" y1="1068.5" y2="1073.9"/>
<line x1="1466.5" x2="1466.5" y1="1068.5" y2="1073.9"/>
<line x1="220.1" x2="225.5" y1="1059.5" y2="1059.5"/>
<line x1="220.1" x2="225.5" y1="876.5" y2="876.5"/>
<line x1="220.1" x2="225.5" y1="693.5" y2="693.5"/>
<line x1="220.1" x2="225.5" y1="510.5" y2="510.5"/>
<line x1="220.1" x2="225.5" y1="327.5" y2="327.5"/>
<line x1="220.1" x2="225.5" y1="144.5" y2="144.5"/>
</g>
<g class="t" font-size="14.5">
<text x="299.01" y="1089.1" textLength="21.04" lengthAdjust="spacingAndGlyphs">0.3</text>
<text x="492.02" y="1089.1" textLength="20.82" lengthAdjust="spacingAndGlyphs">0.4</text>
<text x="685.01" y="1089.1" textLength="21.01" lengthAdjust="spacingAndGlyphs">0.5</text>
<text x="877.01" y="1089.1" textLength="21.04" lengthAdjust="spacingAndGlyphs">0.6</text>
<text x="1070.01" y="1089.1" textLength="21.16" lengthAdjust="spacingAndGlyphs">0.7</text>
<text x="1263.01" y="1089.1" textLength="21.04" lengthAdjust="spacingAndGlyphs">0.8</text>
<text x="1456.01" y="1089.1" textLength="21.11" lengthAdjust="spacingAndGlyphs">0.9</text>
<text x="206.89" y="1063.90" textLength="8.71" lengthAdjust="spacingAndGlyphs">0</text>
<text x="189.00" y="880.90" textLength="26.61" lengthAdjust="spacingAndGlyphs">200</text>
<text x="189.06" y="697.90" textLength="25.73" lengthAdjust="spacingAndGlyphs">400</text>
<text x="189.00" y="514.90" textLength="26.61" lengthAdjust="spacingAndGlyphs">600</text>
<text x="189.12" y="331.90" textLength="26.49" lengthAdjust="spacingAndGlyphs">800</text>
<text x="180.03" y="150.05" textLength="34.37" lengthAdjust="spacingAndGlyphs">1000</text>
<text x="1551.32" y="1107.3" textLength="67.87" lengthAdjust="spacingAndGlyphs">+7.972e3</text>
</g>
<g class="t" font-size="43.6">
<text x="819.91" y="1128.1" textLength="80.91" lengthAdjust="spacingAndGlyphs">Age</text>
<text x="913.97" y="1128.1" textLength="110.27" lengthAdjust="spacingAndGlyphs">(Myr)</text>
<g transform="translate(164.6 0) rotate(-90)">
<text x="-781.50" y="0" textLength="65.20" lengthAdjust="spacingAndGlyphs">FM</text>
<text x="-707.81" y="0" textLength="130.71" lengthAdjust="spacingAndGlyphs">period</text>
<text x="-561.71" y="0" textLength="130.54" lengthAdjust="spacingAndGlyphs">(days)</text>
</g>
</g>
<rect x="235.5" y="154.5" width="446.1" height="244" rx="4.2" ry="4.2" fill="#fff" fill-opacity="0.8" stroke="#cccccc" stroke-opacity="0.8" stroke-width="1.1"/>
<line x1="242.9" x2="286.2" y1="171" y2="171" stroke="#000" stroke-width="2.1"/>
<circle cx="265.2" cy="171" r="2.25" fill="#000"/>
<line x1="241.9" x2="287.1" y1="203" y2="203" stroke="#0000ff" stroke-width="4.2"/>
<line x1="241.9" x2="287.1" y1="233.1" y2="233.1" stroke="#008000" stroke-width="4.2"/>
<line x1="242.9" x2="286.2" y1="264" y2="264" stroke="#ffa500" stroke-width="2.1"/>
<circle cx="265.4" cy="294.4" r="4.2" fill="#90ee90"/>
<line x1="242.9" x2="286.1" y1="324.9" y2="324.9" stroke="#ff0000" stroke-width="2.1"/>
<polygon points="265.40,303.90 260.57,318.76 244.95,318.76 257.59,327.94 252.76,342.79 265.40,333.61 278.04,342.79 273.21,327.94 285.85,318.76 270.23,318.76" fill="#ff0000"/>
<circle cx="265.4" cy="369.5" r="7.0" fill="#ffff00" fill-opacity="0.25" stroke="#ffff00" stroke-opacity="0.25" stroke-width="1.0"/>
<g class="t" font-size="21.8">
<text x="302.87" y="179.0" textLength="159.83" lengthAdjust="spacingAndGlyphs">m0.90_z0.0036</text>
<text x="302.23" y="209.5" textLength="49.94" lengthAdjust="spacingAndGlyphs">peak</text>
<text x="359.58" y="209.5" textLength="87.51" lengthAdjust="spacingAndGlyphs">detector</text>
<text x="453.34" y="209.5" textLength="104.35" lengthAdjust="spacingAndGlyphs">horizontal</text>
<text x="564.11" y="209.5" textLength="76.42" lengthAdjust="spacingAndGlyphs">bounds</text>
<text x="302.29" y="240.0" textLength="46.03" lengthAdjust="spacingAndGlyphs">min.</text>
<text x="354.06" y="240.0" textLength="12.51" lengthAdjust="spacingAndGlyphs">P</text>
<text x="373.40" y="240.0" textLength="106.75" lengthAdjust="spacingAndGlyphs">consistent</text>
<text x="488.35" y="240.0" textLength="43.21" lengthAdjust="spacingAndGlyphs">with</text>
<text x="537.91" y="240.0" textLength="134.04" lengthAdjust="spacingAndGlyphs">observations</text>
<text x="302.31" y="270.5" textLength="52.07" lengthAdjust="spacingAndGlyphs">max.</text>
<text x="360.16" y="270.5" textLength="12.51" lengthAdjust="spacingAndGlyphs">P</text>
<text x="379.52" y="270.5" textLength="51.74" lengthAdjust="spacingAndGlyphs">must</text>
<text x="439.05" y="270.5" textLength="32.01" lengthAdjust="spacingAndGlyphs">fall</text>
<text x="478.35" y="270.5" textLength="62.10" lengthAdjust="spacingAndGlyphs">within</text>
<text x="547.45" y="270.5" textLength="36.71" lengthAdjust="spacingAndGlyphs">this</text>
<text x="591.98" y="270.5" textLength="50.11" lengthAdjust="spacingAndGlyphs">span</text>
<text x="302.21" y="301.0" textLength="55.52" lengthAdjust="spacingAndGlyphs">pulse</text>
<text x="364.52" y="301.0" textLength="66.40" lengthAdjust="spacingAndGlyphs">region</text>
<text x="437.94" y="301.0" textLength="20.04" lengthAdjust="spacingAndGlyphs">fit</text>
<text x="466.75" y="301.0" textLength="43.11" lengthAdjust="spacingAndGlyphs">with</text>
<text x="516.02" y="301.0" textLength="54.60" lengthAdjust="spacingAndGlyphs">cubic</text>
<text x="578.27" y="301.0" textLength="61.36" lengthAdjust="spacingAndGlyphs">spline</text>
<text x="302.23" y="331.5" textLength="66.39" lengthAdjust="spacingAndGlyphs">pulses</text>
<text x="375.58" y="331.5" textLength="97.98" lengthAdjust="spacingAndGlyphs">identified</text>
<text x="302.11" y="362.0" textLength="123.33" lengthAdjust="spacingAndGlyphs">intersection</text>
<text x="433.34" y="362.0" textLength="21.66" lengthAdjust="spacingAndGlyphs">w/</text>
<text x="462.54" y="362.0" textLength="71.30" lengthAdjust="spacingAndGlyphs">P,L,T,R</text>
<text x="302.15" y="385.0" textLength="71.79" lengthAdjust="spacingAndGlyphs">loosely</text>
<text x="382.31" y="385.0" textLength="77.60" lengthAdjust="spacingAndGlyphs">defined</text>
</g>
</svg>
</body></html>
